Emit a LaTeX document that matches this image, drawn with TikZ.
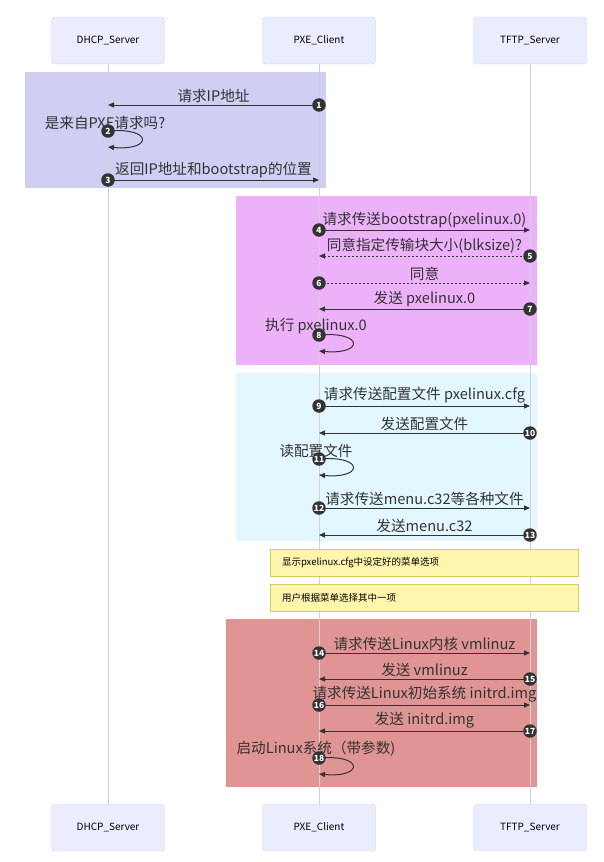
\documentclass[tikz,border=0pt]{standalone}
\usepackage{fontspec}
\setmainfont{Noto Sans CJK SC}
\usepackage{xcolor}
\usetikzlibrary{arrows.meta}
\definecolor{actorfill}{RGB}{236,236,255}
\definecolor{actorline}{RGB}{212,212,246}
\definecolor{lifegray}{RGB}{208,208,214}
\definecolor{msgdark}{RGB}{51,51,51}
\definecolor{dhcpbox}{RGB}{207,206,243}
\definecolor{bootbox}{RGB}{237,177,250}
\definecolor{cfgbox}{RGB}{226,247,255}
\definecolor{kernbox}{RGB}{224,149,148}
\definecolor{notefill}{RGB}{255,245,173}
\definecolor{noteline}{RGB}{212,202,96}

\begin{document}
\begin{tikzpicture}[x=1pt, y=-1pt,
  actor/.style={draw=actorline, fill=actorfill, rounded corners=3pt, minimum width=113pt, minimum height=47pt, font=\fontsize{10}{12}\selectfont},
  life/.style={draw=lifegray, line width=0.6pt},
  msg/.style={draw=msgdark, line width=1pt, -{Triangle[length=6pt,width=5pt]}},
  reply/.style={msg, dash pattern=on 2pt off 2pt},
  lbl/.style={inner sep=1pt, text=msgdark, font=\fontsize{14.6}{16}\selectfont},
  num/.style={circle, fill=msgdark, text=white, inner sep=0pt, minimum size=13.5pt, font=\fontsize{8.5}{8.5}\selectfont\bfseries},
  note/.style={draw=noteline, fill=notefill, line width=0.8pt, inner xsep=12pt, text width=284pt, minimum height=27pt, align=left, font=\fontsize{9.5}{11}\selectfont}
]
\useasboundingbox (0,0) rectangle (603,862);

% grouping boxes
\fill[dhcpbox] (25,72) rectangle (326,188);
\fill[bootbox] (236,196) rectangle (537,365);
\fill[cfgbox] (236,373) rectangle (537,541);
\fill[kernbox] (226,619) rectangle (537,787);

% participants
\node[actor] (dhcp) at (108,40.5) {DHCP\_Server};
\node[actor] (pxe) at (319,40.5) {PXE\_Client};
\node[actor] (tftp) at (530,40.5) {TFTP\_Server};
\node[actor] (dhcpEnd) at (108,827.5) {DHCP\_Server};
\node[actor] (pxeEnd) at (319,827.5) {PXE\_Client};
\node[actor] (tftpEnd) at (530,827.5) {TFTP\_Server};
\draw[life] (dhcp) -- (dhcpEnd);
\draw[life] (pxe) -- (pxeEnd);
\draw[life] (tftp) -- (tftpEnd);

% notes
\node[note] (menu) at (424,562.5) {显示pxelinux.cfg中设定好的菜单选项};
\node[note] (pick) at (424,598) {用户根据菜单选择其中一项};

% messages
\foreach \n/\fx/\tx/\y/\kind/\txt in {
  1/319/108/105/msg/请求IP地址,
  3/108/319/180/msg/返回IP地址和bootstrap的位置,
  4/319/530/230/msg/请求传送bootstrap(pxelinux.0),
  5/530/319/256/reply/同意指定传输块大小(blksize)?,
  6/319/530/283/reply/同意,
  7/530/319/309/msg/发送 pxelinux.0,
  9/319/530/406/msg/请求传送配置文件 pxelinux.cfg,
  10/530/319/433/msg/发送配置文件,
  12/319/530/508/msg/请求传送menu.c32等各种文件,
  13/530/319/535/msg/发送menu.c32,
  14/319/530/653/msg/请求传送Linux内核 vmlinuz,
  15/530/319/679/msg/发送 vmlinuz,
  16/319/530/705/msg/请求传送Linux初始系统 initrd.img,
  17/530/319/731/msg/发送 initrd.img}{
  \coordinate (from\n) at (\fx,\y);
  \coordinate (to\n) at (\tx,\y);
  \draw[\kind] (from\n) -- node[lbl, above, yshift=1pt] {\txt} (to\n);
  \node[num] (num\n) at (from\n) {\n};
}

% self messages
\foreach \n/\x/\y/\txt in {
  2/108/131/是来自PXE请求吗?,
  8/319/335/执行 pxelinux.0,
  11/319/459/读配置文件,
  18/319/758/启动Linux系统（带参数)}{
  \coordinate (from\n) at (\x,\y);
  \coordinate (to\n) at (\x,\y+16);
  \node[lbl, above] (self\n) at (\x-3,\y) {\txt};
  \draw[msg] (from\n) .. controls (\x+45,\y-4) and (\x+45,\y+20) .. (to\n);
  \node[num] (num\n) at (from\n) {\n};
}
\end{tikzpicture}
\end{document}
